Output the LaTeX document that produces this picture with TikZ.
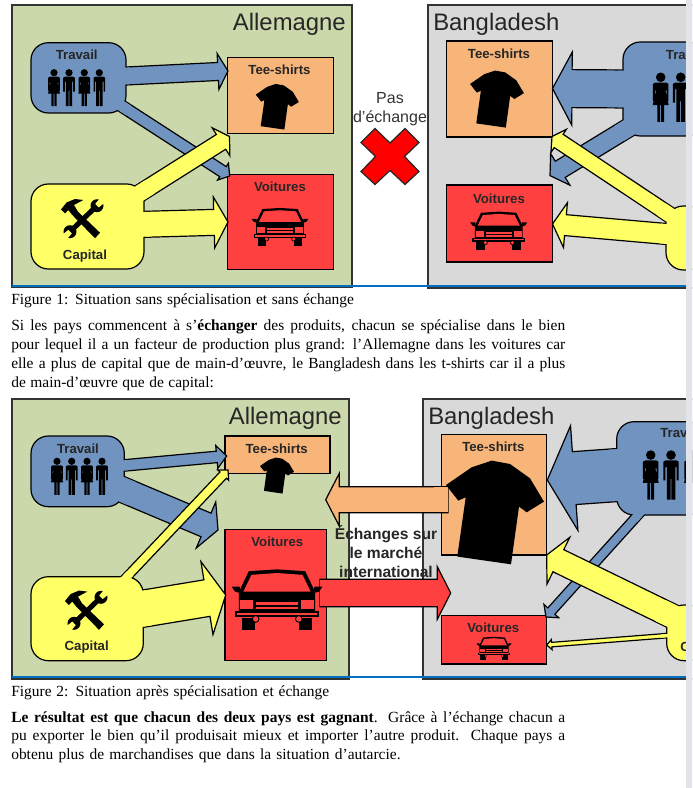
\documentclass[tikz,border=0pt]{standalone}
\usepackage{fontspec}
\setmainfont{Liberation Sans}
\newfontfamily\paraserif{Liberation Serif}
\usetikzlibrary{calc}

\definecolor{greenland}{HTML}{CBD8AB}
\definecolor{greyland}{HTML}{D9D9D9}
\definecolor{labourblue}{HTML}{7094BF}
\definecolor{capyellow}{HTML}{FFFF66}
\definecolor{shirtorange}{HTML}{F7B57A}
\definecolor{carred}{HTML}{FF4040}
\definecolor{labtext}{HTML}{262626}
\definecolor{pageline}{HTML}{0070C0}
\definecolor{pageband}{HTML}{E1E5EB}

% box given by its corners in pixels
\newcommand{\pxbox}[6]{%
	\pgfmathsetlengthmacro\pxw{(#4-#2)*0.75}%
	\pgfmathsetlengthmacro\pxh{(#5-#3)*0.75}%
	\node[#6, minimum width=\pxw, minimum height=\pxh] (#1) at ({(#2+#4)/2},{(#3+#5)/2}) {};%
}
% fill, from, to, shaft, head, head length
\newcommand{\fatarrow}[6]{%
	\coordinate (hb) at ($(#3)!#6*0.75pt!(#2)$);
	\draw[fatline, fill=#1] ($(#2)!#4*0.375pt!90:(#3)$) -- ($(hb)!#4*0.375pt!90:(#3)$) -- ($(hb)!#5*0.375pt!90:(#3)$) -- (#3) -- ($(hb)!#5*0.375pt!-90:(#3)$) -- ($(hb)!#4*0.375pt!-90:(#3)$) -- ($(#2)!#4*0.375pt!-90:(#3)$) -- cycle;
}
% wipes the outline where a shaft leaves its box
\newcommand{\fatjoin}[5]{%
	\draw[#1, line width=#4*0.75pt-0.9pt] (#2) -- ($(#2)!#5*0.75pt!(#3)$);
}
\newcommand{\fullline}[1]{\makebox[415.5pt][s]{#1}}

\tikzset{
	fatline/.style={draw=black, line width=0.9pt, line join=miter},
	panelbox/.style={draw=black!80, line width=1.5pt, inner sep=0pt, outer sep=0pt},
	prodbox/.style={draw=black, line width=0.9pt, inner sep=0pt, outer sep=0pt},
	blobbox/.style={draw=black, line width=0.9pt, rounded corners=13pt, inner sep=0pt, outer sep=0pt},
	countrylabel/.style={font=\fontsize{17.9}{20}\selectfont, text=black!85, inner sep=0pt},
	boldlabel/.style={font=\bfseries\fontsize{9.9}{12}\selectfont, text=labtext, inner sep=0pt},
	paratext/.style={font=\paraserif\fontsize{11.6}{14.2}\selectfont, align=left, anchor=north west, inner sep=0pt},
	shirticon/.pic={
		\fill[black] (-3.3,-51.7) -- (-23.3,-45) -- (-49,-27.3) -- (-36.7,-11.7) -- (-29.3,-15) -- (-37.7,44.3) -- (16,52) -- (24,-5.7) -- (31.7,0) -- (49,-10.7) -- (35,-34) -- (15,-48.3) -- cycle;
	},
	manicon/.pic={
		\fill[black] (0,-15) circle (3.6);
		\fill[black] (-5.8,-10) -- (-4,-11) -- (4,-11) -- (5.8,-10) -- (5.8,4) -- (4.2,4) -- (4.2,-6) -- (3.2,-6) -- (3.2,18.5) -- (0.35,18.5) -- (0.35,3) -- (-0.35,3) -- (-0.35,18.5) -- (-3.2,18.5) -- (-3.2,-6) -- (-4.2,-6) -- (-4.2,4) -- (-5.8,4) -- cycle;
	},
	womanicon/.pic={
		\fill[black] (0,-15) circle (3.6);
		\fill[black] (-5.8,-10) -- (-4,-11) -- (4,-11) -- (5.8,-10) -- (5.8,3) -- (4.4,3) -- (4.4,-5) -- (3.5,-5) -- (6,6) -- (2.6,6) -- (2.6,18.5) -- (0.4,18.5) -- (0.4,6) -- (-0.4,6) -- (-0.4,18.5) -- (-2.6,18.5) -- (-2.6,6) -- (-6,6) -- (-3.5,-5) -- (-4.4,-5) -- (-4.4,3) -- (-5.8,3) -- cycle;
	},
	caricon/.pic={
		\fill[black] (-50,-15) -- (-41,-15) -- (-40.6,-8) -- (-46,-9.5) -- cycle;
		\fill[black] (50,-15) -- (41,-15) -- (40.6,-8) -- (46,-9.5) -- cycle;
		\fill[black] (-42,-9) -- (-31,-32) -- (0,-34) -- (31,-32) -- (42,-9) -- (42,12) -- (-42,12) -- cycle;
		\fill[carred] (-37,-9.5) -- (-28,-28) -- (0,-30) -- (28,-28) -- (37,-9.5) -- cycle;
		\fill[carred] (-40.6,0) rectangle (-26,10);
		\fill[carred] (26,0) rectangle (40.6,10);
		\fill[carred] (-23,2) rectangle (23,5);
		\fill[carred] (-23,7) rectangle (23,10);
		\fill[black] (-46,11.5) rectangle (46,18.5);
		\fill[carred] (-44,13.5) rectangle (44,16.5);
		\fill[black] (-39,19) rectangle (-24,33);
		\fill[black] (24,19) rectangle (39,33);
		\fill[black] (-23.4,20.5) circle (4.2);
		\fill[black] (24,20.5) circle (4.2);
		\fill[carred] (-23.4,20.5) circle (3);
		\fill[carred] (24,20.5) circle (3);
	},
	toolsicon/.pic={
		% wrench
		\fill[black] (16,-11) circle (6.5);
		\fill[black] (-11,15) circle (6.5);
		\draw[black, line width=3.8pt] (16,-11) -- (-11,15);
		\fill[capyellow] (17.75,-9.25) -- (14.25,-12.75) -- (20.55,-20.45) -- (25.45,-15.55) -- cycle;
		\fill[capyellow] (-9.25,16.75) -- (-12.75,13.25) -- (-20.45,19.55) -- (-15.55,24.45) -- cycle;
		% hammer
		\fill[black] (-20,-7.3) -- (-14.3,-14.3) -- (-6,-17.7) -- (2.3,-16.7) -- (-7,-11.7) -- (-3,-5) -- (19,16) -- (14,21.5) -- (-9,-2) -- (-12.7,-6.7) -- (-16,-3.3) -- cycle;
	}
}

\begin{document}
\begin{tikzpicture}[x=0.75pt, y=-0.75pt]
	\clip (0,0) rectangle (692,788);

	% Countries
	\pxbox{all1}{12}{5}{352}{287}{panelbox, fill=greenland}
	\pxbox{ban1}{427.5}{5}{705}{288}{panelbox, fill=greyland}
	\pxbox{all2}{12}{399}{348.5}{679}{panelbox, fill=greenland}
	\pxbox{ban2}{423}{399}{705}{679}{panelbox, fill=greyland}

	% Products
	\pxbox{teeA}{227.7}{57.7}{333.3}{133.3}{prodbox, fill=shirtorange}
	\pxbox{carA}{227.7}{174.3}{333.3}{269.3}{prodbox, fill=carred}
	\pxbox{teeB}{446.7}{41}{552.5}{137}{prodbox, fill=shirtorange}
	\pxbox{carB}{446.7}{185}{552.5}{262}{prodbox, fill=carred}
	\pxbox{teeC}{225}{436}{330}{473.3}{prodbox, fill=shirtorange}
	\pxbox{carC}{225}{529.3}{326.7}{660.7}{prodbox, fill=carred}
	\pxbox{teeD}{441.7}{434.3}{546.7}{555}{prodbox, fill=shirtorange}
	\pxbox{carD}{441.7}{615.3}{546.7}{664}{prodbox, fill=carred}

	% Ends of the arrows
	\coordinate (aS) at (120,76.3);   \coordinate (aT) at (228,71);
	\coordinate (bS) at (117,103);    \coordinate (bT) at (229.7,176);
	\coordinate (cS) at (130,199.4);  \coordinate (cT) at (229.5,136.5);
	\coordinate (dS) at (138,224.5);  \coordinate (dT) at (228,222);
	\coordinate (eS) at (630,89);     \coordinate (eT) at (552.5,88.5);
	\coordinate (fS) at (640,120.7);  \coordinate (fT) at (550,175.6);
	\coordinate (gS) at (680,221.7);  \coordinate (gT) at (552,136.5);
	\coordinate (hS) at (672,234.5);  \coordinate (hT) at (552.5,224);
	\coordinate (iS) at (118,466);    \coordinate (iT) at (226.7,456);
	\coordinate (jS) at (115,486.5);  \coordinate (jT) at (218,530);
	\coordinate (kS) at (122,582);    \coordinate (kT) at (228,470);
	\coordinate (lS) at (135,610);    \coordinate (lT) at (225.7,595);
	\coordinate (mS) at (625,474.5);  \coordinate (mT) at (547.3,480);
	\coordinate (nS) at (642.5,510);  \coordinate (nT) at (546,617);
	\coordinate (oS) at (680,620);    \coordinate (oT) at (546.7,555);
	\coordinate (pS) at (675,635);    \coordinate (pT) at (546.7,645);
	\coordinate (qS) at (320,593);    \coordinate (qT) at (450.7,593);
	\coordinate (rS) at (448,499.7);  \coordinate (rT) at (325.7,499.7);

	% Blue arrows and labour
	\fatarrow{labourblue}{aS}{aT}{18}{36}{10}
	\fatarrow{labourblue}{bS}{bT}{12}{20}{8}
	\pxbox{travA}{31}{42.7}{126}{113}{blobbox, fill=labourblue}
	\fatjoin{labourblue}{aS}{aT}{18}{10}
	\fatjoin{labourblue}{bS}{bT}{12}{14}

	\fatarrow{labourblue}{eS}{eT}{38}{73}{19.5}
	\fatarrow{labourblue}{fS}{fT}{19}{37}{12}
	\pxbox{travB}{623}{42}{705}{136}{blobbox, fill=labourblue}
	\fatjoin{labourblue}{eS}{eT}{38}{12}
	\fatjoin{labourblue}{fS}{fT}{19}{24}

	\fatarrow{labourblue}{iS}{iT}{11.5}{23}{10}
	\fatarrow{labourblue}{jS}{jT}{25.6}{50}{13}
	\pxbox{travC}{31}{436}{124.3}{506.7}{blobbox, fill=labourblue}
	\fatjoin{labourblue}{iS}{iT}{11.5}{12}
	\fatjoin{labourblue}{jS}{jT}{25.6}{18}

	\fatarrow{labourblue}{mS}{mT}{53}{105}{27}
	\fatarrow{labourblue}{nS}{nT}{9.5}{20}{8}
	\pxbox{travD}{616.7}{421.7}{705}{515}{blobbox, fill=labourblue}
	\fatjoin{labourblue}{mS}{mT}{53}{14}
	\fatjoin{labourblue}{nS}{nT}{9.5}{12}

	% Yellow arrows and capital
	\fatarrow{capyellow}{cS}{cT}{17.5}{33}{10}
	\fatarrow{capyellow}{dS}{dT}{26}{51}{14}
	\pxbox{capA}{31}{184}{144}{269}{blobbox, fill=capyellow}
	\fatjoin{capyellow}{cS}{cT}{17.5}{24}
	\fatjoin{capyellow}{dS}{dT}{26}{12}

	\fatarrow{capyellow}{gS}{gT}{16}{28}{8}
	\fatarrow{capyellow}{hS}{hT}{21}{45}{13}
	\pxbox{capB}{666}{206}{705}{270}{blobbox, fill=capyellow}
	\fatjoin{capyellow}{gS}{gT}{16}{22}
	\fatjoin{capyellow}{hS}{hT}{21}{12}

	\fatarrow{capyellow}{kS}{kT}{9}{15}{7}
	\fatarrow{capyellow}{lS}{lT}{37}{74}{19}
	\pxbox{capC}{31}{576.7}{143.3}{660.7}{blobbox, fill=capyellow}
	\fatjoin{capyellow}{kS}{kT}{9}{12}
	\fatjoin{capyellow}{lS}{lT}{37}{14}

	\fatarrow{capyellow}{oS}{oT}{24.6}{52}{13}
	\fatarrow{capyellow}{pS}{pT}{4.5}{10}{5}
	\pxbox{capD}{666.7}{605}{705}{660.7}{blobbox, fill=capyellow}
	\fatjoin{capyellow}{oS}{oT}{24.6}{22}
	\fatjoin{capyellow}{pS}{pT}{4.5}{14}

	% Trade arrows
	\fatarrow{carred}{qS}{qT}{27.4}{52.6}{13.4}
	\fatjoin{carred}{qS}{qT}{27.4}{14}
	\fatarrow{shirtorange}{rS}{rT}{26}{52.7}{13.6}
	\fatjoin{shirtorange}{rS}{rT}{26}{14}

	% Icons
	\pic[scale=0.44] at (277.3,106.7) {shirticon};
	\pic[scale=0.55] at (497,99) {shirticon};
	\pic[scale=0.347] at (277,475.5) {shirticon};
	\pic at (495,512.3) {shirticon};

	\pic[scale=0.57] at (280,227.3) {caricon};
	\pic[scale=0.57] at (498.7,231) {caricon};
	\pic[scale=0.91] at (277,600.3) {caricon};
	\pic[scale=0.35] at (494,648.7) {caricon};

	\pic at (81,216.7) {toolsicon};
	\pic at (85,608.3) {toolsicon};

	\pic at (54,87.7) {womanicon};
	\pic at (69,87.7) {manicon};
	\pic at (84.3,87.7) {womanicon};
	\pic at (99.3,87.7) {manicon};

	\pic at (57,476.3) {womanicon};
	\pic at (71.7,476.3) {manicon};
	\pic at (87,476.3) {womanicon};
	\pic at (102,476.3) {manicon};

	\pic[scale=1.33] at (660.7,97.2) {womanicon};
	\pic[scale=1.33] at (680.7,97.2) {manicon};

	\pic[scale=1.33] at (650.7,475) {womanicon};
	\pic[scale=1.33] at (671,475) {manicon};
	\pic[scale=1.33] at (692,475) {womanicon};

	% The cross
	\draw[fill=red, draw=black!85, line width=0.9pt] (375,128.5) -- (390,143) -- (405,128.5) -- (419,142.5) -- (404.5,156.5) -- (419,171.5) -- (405,184.5) -- (390,170.5) -- (375,184.5) -- (361,171.5) -- (375.5,156.5) -- (361,142.5) -- cycle;

	% Labels
	\node[countrylabel, anchor=base east] (allA) at (346,31) {Allemagne};
	\node[countrylabel, anchor=base west] (banA) at (433,31) {Bangladesh};
	\node[countrylabel, anchor=base east] (allB) at (342,424) {Allemagne};
	\node[countrylabel, anchor=base west] (banB) at (428,424) {Bangladesh};

	\node[boldlabel] (travAlab) at (76.7,55) {Travail};
	\node[boldlabel] (capAlab) at (85,255.7) {Capital};
	\node[boldlabel] (teeAlab) at (279.5,70) {Tee-shirts};
	\node[boldlabel] (carAlab) at (280,187) {Voitures};
	\node[boldlabel] (teeBlab) at (499,53.3) {Tee-shirts};
	\node[boldlabel] (carBlab) at (499,198.3) {Voitures};
	\node[boldlabel, anchor=west] (travBlab) at (665.7,55) {Tra};

	\node[boldlabel] (travClab) at (78,448.7) {Travail};
	\node[boldlabel] (capClab) at (86.7,646.7) {Capital};
	\node[boldlabel] (teeClab) at (276.7,448.7) {Tee-shirts};
	\node[boldlabel] (carClab) at (277.3,541.7) {Voitures};
	\node[boldlabel] (teeDlab) at (493.3,446.7) {Tee-shirts};
	\node[boldlabel] (carDlab) at (493.3,627.7) {Voitures};
	\node[boldlabel, anchor=west] (travDlab) at (660,433.5) {Trav};
	\node[boldlabel, anchor=west] (capDlab) at (680,646.7) {C};

	\node[font=\fontsize{12}{14.3}\selectfont, text=black!80, align=center, inner sep=0pt] (noex) at (390,109.5) {Pas\\d’échange};
	\node[font=\bfseries\fontsize{11.7}{14.3}\selectfont, text=labtext, align=center, inner sep=0pt] (market) at (386,551.5) {Échanges sur\\le marché\\international};

	% Page
	\draw[pageline, line width=0.8pt] (12,286) -- (686,286);
	\draw[pageline, line width=0.8pt] (12,677) -- (686,677);
	\fill[pageband] (686,0) rectangle (692,788);

	\node[paratext] (figone) at (11,293) {\makebox[257pt][s]{Figure 1: Situation sans spécialisation et sans échange}};
	\node[paratext] (paraone) at (11,319.5) {\fullline{Si les pays commencent à s’\textbf{échanger} des produits, chacun se spécialise dans le bien}\\
		\fullline{pour lequel il a un facteur de production plus grand: l’Allemagne dans les voitures car}\\
		\fullline{elle a plus de capital que de main-d’œuvre, le Bangladesh dans les t-shirts car il a plus}\\
		\makebox[152pt][s]{de main-d’œuvre que de capital:}};
	\node[paratext] (figtwo) at (11,685) {\makebox[238.5pt][s]{Figure 2: Situation après spécialisation et échange}};
	\node[paratext] (paratwo) at (11,711) {\fullline{\textbf{Le résultat est que chacun des deux pays est gagnant}. Grâce à l’échange chacun a}\\
		\fullline{pu exporter le bien qu’il produisait mieux et importer l’autre produit. Chaque pays a}\\
		\makebox[292pt][s]{obtenu plus de marchandises que dans la situation d’autarcie.}};
\end{tikzpicture}
\end{document}
